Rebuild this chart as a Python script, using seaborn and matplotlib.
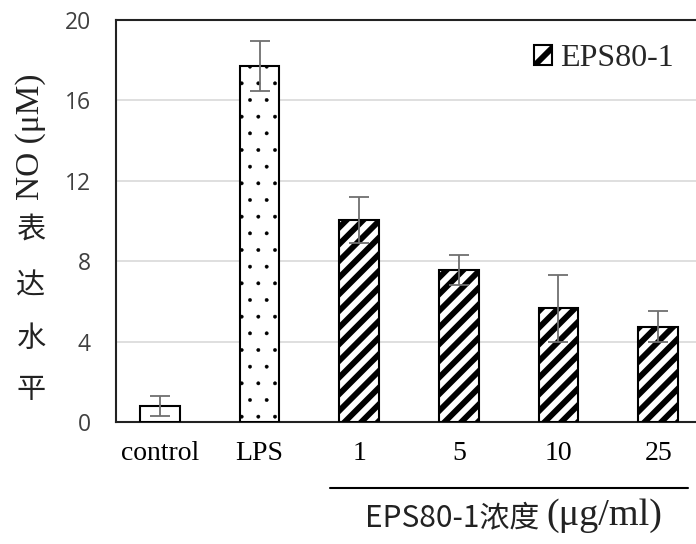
import matplotlib
matplotlib.use("Agg")
import matplotlib.pyplot as plt
import matplotlib.patches as mpatches
import seaborn as sns
import pandas as pd

categories = ["control", "LPS", "1", "5", "10", "25"]
values = [0.8, 17.7, 10.05, 7.55, 5.65, 4.75]
errors = [0.5, 1.25, 1.15, 0.75, 1.65, 0.75]
hatches = ["", ".", "//", "//", "//", "//"]
hatch_lw = [1.0, 0.3, 4.2, 4.2, 4.2, 4.2]
legend_label = "EPS80-1"
ylabel_cn = ["表", "达", "水", "平"]
ylabel_en = "NO (μM)"
xlabel_a = "EPS80-1浓度"
xlabel_b = "(μg/ml)"
yticks = [0, 4, 8, 12, 16, 20]

sns.set_theme(style="white")
plt.rcParams["font.family"] = ["Open Sans", "DejaVu Sans"]
plt.rcParams["hatch.linewidth"] = 4.2
plt.rcParams["hatch.color"] = "black"

W, H = 696, 544
fig = plt.figure(figsize=(W / 100, H / 100), dpi=100)
ax = fig.add_axes([116 / W, (544 - 422) / H, 580 / W, (422 - 20) / H])

df = pd.DataFrame({"cat": categories, "val": values})
sns.barplot(data=df, x="cat", y="val", ax=ax, width=0.4, color="white",
            edgecolor="black", linewidth=1.5, errorbar=None, zorder=3)
for p, h, lw in zip(ax.patches, hatches, hatch_lw):
    p.set_facecolor("white")
    p.set_edgecolor("black")
    p.set_hatch(h)
    if hasattr(p, "set_hatch_linewidth"):
        p.set_hatch_linewidth(lw)
    p.set_zorder(3)

ax.errorbar(range(len(categories)), values, yerr=errors, fmt="none",
            ecolor="#6f6f6f", elinewidth=1.3, capsize=7, capthick=1.3, zorder=4)

ax.set_xlim(-0.44, 5.38)
ax.set_ylim(0, 20)
ax.set_yticks(yticks)
ax.yaxis.grid(True, color="#d9d9d9", linewidth=1.2, zorder=0)
ax.set_axisbelow(True)
ax.set_xlabel("")
ax.set_ylabel("")
ax.tick_params(axis="both", length=0)
ax.tick_params(axis="y", pad=18, labelsize=16.5, labelcolor="#404040")
ax.tick_params(axis="x", pad=14)
for lab in ax.get_yticklabels():
    lab.set_fontfamily(["Open Sans", "DejaVu Sans"])
for lab in ax.get_xticklabels():
    lab.set_fontfamily(["Liberation Serif", "DejaVu Serif"])
    lab.set_fontsize(20)
    lab.set_color("black")

for side in ["left", "bottom", "top"]:
    ax.spines[side].set_visible(True)
    ax.spines[side].set_color("#222222")
    ax.spines[side].set_linewidth(1.5)
ax.spines["right"].set_visible(False)

handle = mpatches.Patch(facecolor="white", edgecolor="black", hatch="/", linewidth=1.5)
if hasattr(handle, "set_hatch_linewidth"):
    handle.set_hatch_linewidth(4.2)
leg = ax.legend([handle], [legend_label], loc="upper right", frameon=False,
                prop={"family": ["Liberation Serif", "DejaVu Serif"], "size": 23},
                handlelength=0.55, handleheight=0.55, handletextpad=0.25,
                bbox_to_anchor=(1.0, 0.995), borderaxespad=0.3)

# y label: rotated English part and upright Chinese characters
fig.text(31 / W, 1 - 137 / H, ylabel_en, rotation=90, ha="center", va="center",
         fontsize=24, family=["Liberation Serif", "DejaVu Serif"], color="#222222")
for ch, yy in zip(ylabel_cn, [230, 286, 339, 390]):
    fig.text(31 / W, 1 - yy / H, ch, ha="center", va="center", fontsize=21,
             family=["Noto Sans CJK SC", "DejaVu Sans"], color="#222222")

# bracket line and group label
fig.add_artist(plt.Line2D([330 / W, 688 / W], [1 - 488 / H, 1 - 488 / H],
                          color="black", linewidth=1.5))
fig.text(539 / W, 1 - 518 / H, xlabel_a, ha="right", va="center", fontsize=21.5,
         family=["Noto Sans CJK SC", "DejaVu Sans"], color="#222222")
fig.text(546 / W, 1 - 516 / H, xlabel_b, ha="left", va="center", fontsize=27.5,
         family=["Liberation Serif", "DejaVu Serif"], color="#222222")

fig.savefig("out.png", dpi=100)
